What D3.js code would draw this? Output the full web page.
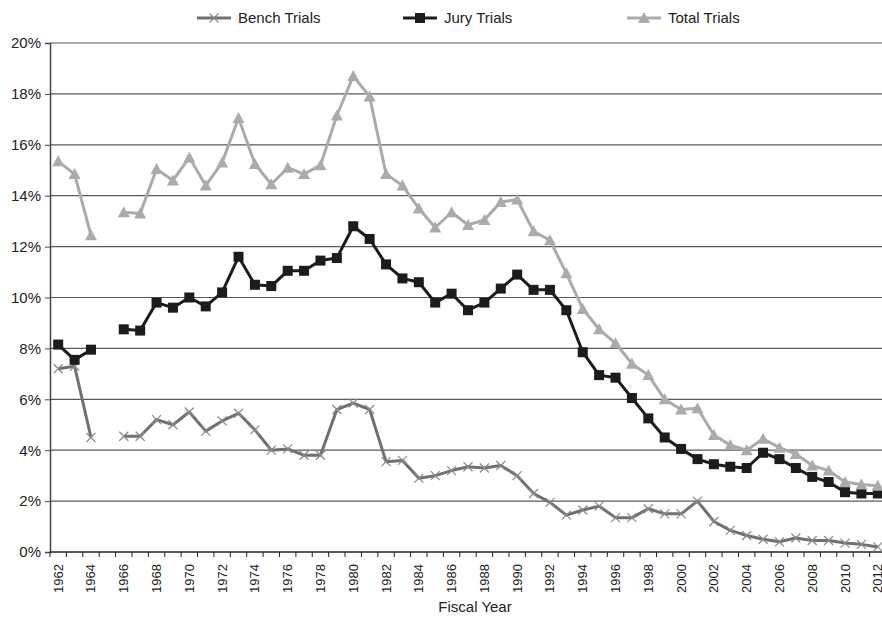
<!DOCTYPE html>
<html>
<head>
<meta charset="utf-8">
<script src="https://cdn.jsdelivr.net/npm/d3@7"></script>
<style>
  body { margin: 0; background: #fff; }
  text { font-family: "Liberation Sans", Arial, sans-serif; fill: #222; }
</style>
</head>
<body>
<script>
// data (percent), 1965 missing
var years = d3.range(1962, 2013)
var bench = [7.2,7.3,4.5,null,4.55,4.55,5.2,5.0,5.5,4.75,5.15,5.45,4.8,4.0,4.05,3.8,3.8,5.6,5.85,5.6,
  3.55,3.6,2.9,3.0,3.2,3.35,3.3,3.4,3.0,2.3,1.95,1.45,1.65,1.8,1.35,1.35,1.7,1.5,1.5,2.0,
  1.2,0.85,0.65,0.5,0.4,0.55,0.45,0.45,0.35,0.3,0.2]
var jury = [8.15,7.55,7.95,null,8.75,8.7,9.8,9.6,10.0,9.65,10.2,11.6,10.5,10.45,11.05,11.05,11.45,11.55,12.8,12.3,
  11.3,10.75,10.6,9.8,10.15,9.5,9.8,10.35,10.9,10.3,10.3,9.5,7.85,6.95,6.85,6.05,5.25,4.5,4.05,3.65,
  3.45,3.35,3.3,3.9,3.65,3.3,2.95,2.75,2.35,2.3,2.3]
var total = [15.35,14.85,12.45,null,13.35,13.3,15.05,14.6,15.5,14.4,15.3,17.05,15.25,14.45,15.1,14.85,15.2,17.15,18.7,17.9,
  14.85,14.4,13.5,12.75,13.35,12.85,13.05,13.75,13.85,12.6,12.25,10.95,9.55,8.75,8.2,7.4,6.95,6.0,5.6,5.65,
  4.6,4.2,4.0,4.45,4.1,3.85,3.4,3.2,2.75,2.65,2.6]
var yTicks = [0,2,4,6,8,10,12,14,16,18,20]

var W = 882, H = 618
var plot = {left: 50, right: 886, top: 43, bottom: 552}

var svg = d3.select("body").append("svg")
  .attr("width", W)
  .attr("height", H)

var x = d3.scaleBand().domain(years).range([plot.left, plot.right])
var y = d3.scaleLinear().domain([0, 20]).range([plot.bottom, plot.top])
var cx = function(yr){ return x(yr) + x.bandwidth()/2 }

// gridlines
svg.append("g").selectAll("line")
  .data(yTicks.slice(1))
  .join("line")
  .attr("x1", plot.left).attr("x2", W)
  .attr("y1", d => y(d)).attr("y2", d => y(d))
  .attr("stroke", "#5a5a5a")
  .attr("stroke-width", 1.2)

// y axis
var yAxis = svg.append("g")
  .attr("transform", "translate(" + plot.left + ",0)")
  .call(d3.axisLeft(y).tickValues(yTicks).tickFormat(d => d + "%").tickSize(5).tickPadding(4))
yAxis.select(".domain").attr("stroke", "#444").attr("stroke-width", 1.5)
yAxis.selectAll(".tick line").attr("stroke", "#444")
yAxis.selectAll("text").style("font-size", "15px").style("font-family", "Liberation Sans, Arial, sans-serif").attr("fill", "#222")

// x axis: ticks on band boundaries
var xg = svg.append("g")
xg.append("line")
  .attr("x1", plot.left).attr("x2", W)
  .attr("y1", plot.bottom).attr("y2", plot.bottom)
  .attr("stroke", "#222").attr("stroke-width", 1.5)
xg.selectAll(".tk")
  .data(years)
  .join("line")
  .attr("class", "tk")
  .attr("x1", d => x(d)).attr("x2", d => x(d))
  .attr("y1", plot.bottom).attr("y2", plot.bottom + 5)
  .attr("stroke", "#222")
xg.selectAll(".lbl")
  .data(years.filter(d => (d - 1962) % 2 == 0))
  .join("text")
  .attr("class", "lbl")
  .attr("transform", d => "translate(" + (cx(d) + 4.5) + "," + (plot.bottom + 12) + ") rotate(-90)")
  .attr("text-anchor", "end")
  .style("font-size", "13px")
  .text(d => d)

svg.append("text")
  .attr("x", 475)
  .attr("y", 612)
  .attr("text-anchor", "middle")
  .style("font-size", "15px")
  .text("Fiscal Year")

// series
var series = [
  {name: "Bench Trials", values: bench, color: "#707070", marker: "x"},
  {name: "Jury Trials", values: jury, color: "#1c1c1c", marker: "square"},
  {name: "Total Trials", values: total, color: "#ababab", marker: "triangle"}
]

function drawMarker(g, type, color){
  if (type == "square"){
    g.append("rect").attr("x", -5).attr("y", -5).attr("width", 10).attr("height", 10).attr("fill", color)
  } else if (type == "triangle"){
    g.append("path").attr("d", "M0,-6L6,5L-6,5Z").attr("fill", color)
  } else {
    g.append("path").attr("d", "M-4.5,-4.5L4.5,4.5M-4.5,4.5L4.5,-4.5")
      .attr("stroke", "#8a8a8a").attr("stroke-width", 1.2).attr("fill", "none")
  }
}

var line = d3.line()
  .defined(d => d.v != null)
  .x(d => cx(d.yr))
  .y(d => y(d.v))

series.forEach(function(s){
  var pts = years.map((yr, i) => ({yr: yr, v: s.values[i]}))
  svg.append("path")
    .datum(pts)
    .attr("d", line)
    .attr("fill", "none")
    .attr("stroke", s.color)
    .attr("stroke-width", 3)
    .attr("stroke-linejoin", "round")
  pts.filter(d => d.v != null).forEach(function(d){
    var g = svg.append("g").attr("transform", "translate(" + cx(d.yr) + "," + y(d.v) + ")")
    drawMarker(g, s.marker, s.color)
  })
})

// legend
var legX = [197, 403, 627]
series.forEach(function(s, i){
  var g = svg.append("g").attr("transform", "translate(" + legX[i] + ",18)")
  g.append("line").attr("x1", 0).attr("x2", 34).attr("stroke", s.color).attr("stroke-width", 3)
  var m = g.append("g").attr("transform", "translate(17,0)")
  drawMarker(m, s.marker, s.color)
  g.append("text")
    .attr("x", 41)
    .attr("y", 5)
    .style("font-size", "15px")
    .text(s.name)
})
</script>
</body>
</html>
